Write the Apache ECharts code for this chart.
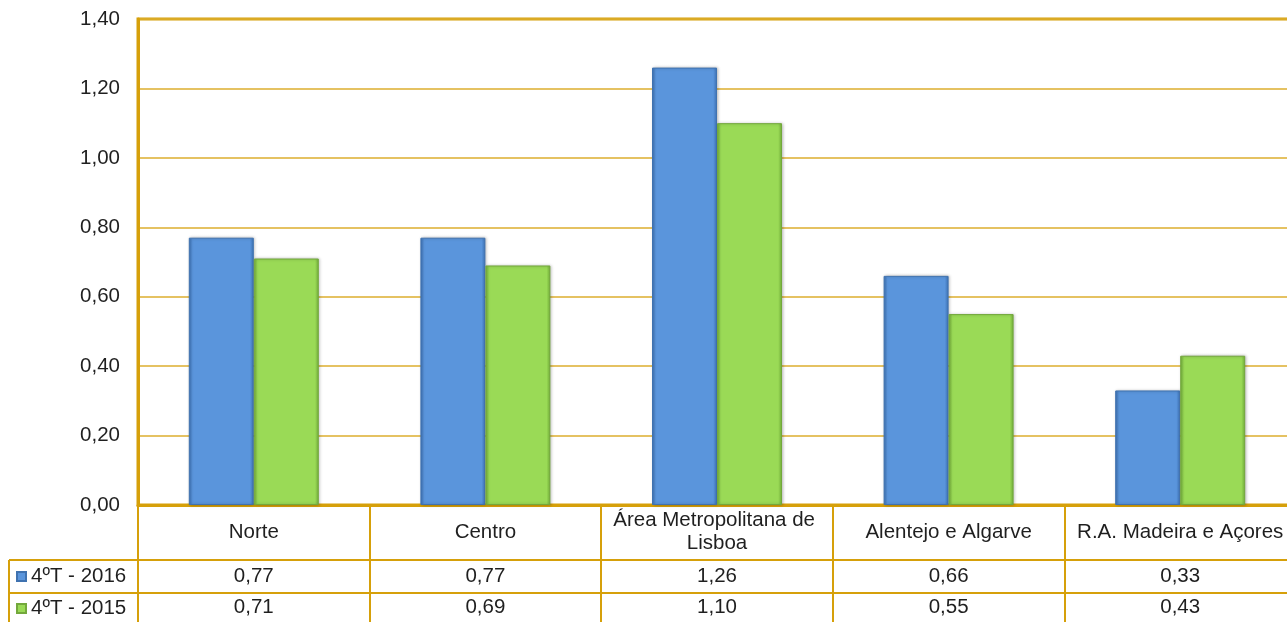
<!DOCTYPE html>
<html>
<head>
<meta charset="utf-8">
<script src="https://cdn.jsdelivr.net/npm/echarts@6/dist/echarts.min.js"></script>
<style>
html,body{margin:0;padding:0;background:#fff;}
#chart{width:1287px;height:622px;}
</style>
</head>
<body>
<div id="chart"></div>
<script>
var categories = ['Norte', 'Centro', 'Área Metropolitana de Lisboa', 'Alentejo e Algarve', 'R.A. Madeira e Açores'];
var seriesNames = ['4ºT - 2016', '4ºT - 2015'];
var values2016 = [0.77, 0.77, 1.26, 0.66, 0.33];
var values2015 = [0.71, 0.69, 1.10, 0.55, 0.43];
var yMin = 0, yMax = 1.4, yStep = 0.2;

function fmt(v) { return v.toFixed(2).replace('.', ','); }

var GOLD = '#D6A00A';
var GRID_GOLD = '#DCAE2E';
var TXT = '#1f1f1f';
var FONT = 'Liberation Sans, Arial, sans-serif';

var gridLeft = 138, gridTop = 19, gridBottom = 117, gridWidth = 1158;
var tableRight = gridLeft + gridWidth;

var chart = echarts.init(document.getElementById('chart'), null, {renderer: 'canvas'});

function barColor(main, dark) {
  return new echarts.graphic.LinearGradient(0, 0, 1, 0, [
    {offset: 0, color: dark},
    {offset: 0.06, color: main},
    {offset: 0.94, color: main},
    {offset: 1, color: dark}
  ]);
}

var option = {
  backgroundColor: '#ffffff',
  animation: false,
  textStyle: {fontFamily: FONT},
  grid: {
    left: gridLeft, top: gridTop, bottom: gridBottom, width: gridWidth,
    outerBoundsMode: 'none', containLabel: false,
    show: true, borderColor: GOLD, borderWidth: 3, backgroundColor: 'transparent'
  },
  legend: {
    orient: 'vertical',
    left: 16, top: 566, padding: 0,
    itemWidth: 9, itemHeight: 9, itemGap: 11,
    icon: 'rect',
    textStyle: {fontSize: 20.5, lineHeight: 20, color: TXT, fontFamily: FONT},
    data: seriesNames
  },
  xAxis: [
    {
      type: 'category', data: categories, position: 'bottom',
      axisLine: {show: true, lineStyle: {color: GOLD, width: 3}},
      axisTick: {show: true, interval: 0, length: 117, lineStyle: {color: GOLD, width: 2}},
      axisLabel: {
        interval: 0, margin: 27, fontSize: 20.5, lineHeight: 23, color: TXT, fontFamily: FONT,
        verticalAlign: 'middle', width: 225, overflow: 'break', align: 'center'
      }
    },
    {
      type: 'category', data: values2016.map(fmt), position: 'bottom',
      axisLine: {show: false}, axisTick: {show: false},
      axisLabel: {interval: 0, margin: 71, fontSize: 20.5, color: TXT, fontFamily: FONT, verticalAlign: 'middle'}
    },
    {
      type: 'category', data: values2015.map(fmt), position: 'bottom',
      axisLine: {show: false}, axisTick: {show: false},
      axisLabel: {interval: 0, margin: 102, fontSize: 20.5, color: TXT, fontFamily: FONT, verticalAlign: 'middle'}
    }
  ],
  yAxis: {
    type: 'value', min: yMin, max: yMax, interval: yStep,
    axisLine: {show: true, lineStyle: {color: GOLD, width: 3}},
    axisTick: {show: false},
    splitLine: {show: true, lineStyle: {color: GRID_GOLD, width: 1.5}},
    axisLabel: {margin: 18, fontSize: 20.5, color: TXT, fontFamily: FONT, formatter: fmt}
  },
  series: [
    {
      name: seriesNames[0], type: 'bar', xAxisIndex: 0, data: values2016,
      barWidth: 65, barGap: '0%',
      itemStyle: {
        color: barColor('#5A95DC', '#3E74B8'),
        borderColor: '#3F72B0', borderWidth: 1,
        shadowColor: 'rgba(0,0,0,0.25)', shadowBlur: 3, shadowOffsetX: 1, shadowOffsetY: 0
      }
    },
    {
      name: seriesNames[1], type: 'bar', xAxisIndex: 0, data: values2015,
      barWidth: 65, barGap: '0%',
      itemStyle: {
        color: barColor('#9ADA56', '#74B03A'),
        borderColor: '#73A83C', borderWidth: 1,
        shadowColor: 'rgba(0,0,0,0.25)', shadowBlur: 3, shadowOffsetX: 1, shadowOffsetY: 0
      }
    }
  ],
  graphic: [
    {type: 'line', shape: {x1: 9, y1: 560, x2: tableRight, y2: 560}, style: {stroke: GOLD, lineWidth: 2}, z: 10},
    {type: 'line', shape: {x1: 9, y1: 593, x2: tableRight, y2: 593}, style: {stroke: GOLD, lineWidth: 2}, z: 10},
    {type: 'line', shape: {x1: 9, y1: 560, x2: 9, y2: 622}, style: {stroke: GOLD, lineWidth: 2}, z: 10}
  ]
};
chart.setOption(option);
</script>
</body>
</html>
